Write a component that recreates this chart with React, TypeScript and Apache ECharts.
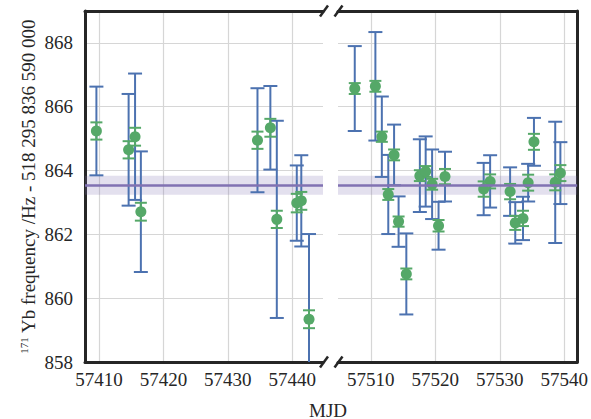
import React, { useEffect, useRef } from "react";
import * as echarts from "echarts";

// MJD of each measurement
const mjd = [
  57409.6, 57414.6, 57415.6, 57416.5, 57434.6, 57436.6, 57437.6, 57440.7, 57441.4, 57442.6,
  57507.5, 57510.7, 57511.7, 57512.7, 57513.6, 57514.3, 57515.5, 57517.6, 57518.5, 57519.5,
  57520.5, 57521.5, 57527.5, 57528.5, 57531.6, 57532.4, 57533.6, 57534.4, 57535.3, 57538.6,
  57539.4,
];
// frequency offset (Hz)
const freq = [
  865.24, 864.65, 865.06, 862.71, 864.95, 865.34, 862.47, 862.98, 863.05, 859.34,
  866.57, 866.64, 865.06, 863.25, 864.49, 862.4, 860.76, 863.84, 863.97, 863.57,
  862.27, 863.81, 863.42, 863.66, 863.34, 862.36, 862.5, 863.62, 864.9, 863.63,
  863.92,
];
// statistical (inner, green) uncertainty
const statErr = [
  0.27, 0.27, 0.28, 0.28, 0.27, 0.28, 0.27, 0.29, 0.28, 0.28,
  0.17, 0.17, 0.16, 0.17, 0.17, 0.16, 0.17, 0.17, 0.17, 0.17,
  0.18, 0.24, 0.24, 0.22, 0.24, 0.22, 0.24, 0.25, 0.25, 0.25,
  0.25,
];
// total (outer, blue) uncertainty
const totalErr = [
  1.39, 1.75, 1.98, 1.89, 1.63, 1.31, 3.09, 1.18, 1.43, 2.67,
  1.33, 1.7, 1.26, 1.24, 0.95, 0.79, 1.27, 1.14, 1.1, 1.09,
  0.75, 0.78, 0.82, 0.82, 0.76, 0.65, 0.68, 0.59, 0.75, 1.9,
  0.97,
];

const leftRange = [57407.83, 57444.77];
const rightRange = [57504.9, 57542.0];
const yRange = [858, 869];
const meanFreq = 863.55;
const meanBand = [863.24, 863.84];

const BLUE = "#4c72b0";
const GREEN = "#55a868";
const PURPLE = "#8172b2";
const FRAME = "#262626";
const FONT = "'Liberation Serif', 'Times New Roman', serif";

function errorBarRender(color: string, capW: number, lw: number) {
  return (params: any, api: any) => {
    const x = api.value(0);
    const y = api.value(1);
    const e = api.value(2);
    const top = api.coord([x, y + e]);
    const bot = api.coord([x, y - e]);
    const hw = capW / 2;
    const style = { stroke: color, lineWidth: lw };
    return {
      type: "group",
      children: [
        { type: "line", shape: { x1: top[0], y1: top[1], x2: bot[0], y2: bot[1] }, style },
        { type: "line", shape: { x1: top[0] - hw, y1: top[1], x2: top[0] + hw, y2: top[1] }, style },
        { type: "line", shape: { x1: bot[0] - hw, y1: bot[1], x2: bot[0] + hw, y2: bot[1] }, style },
      ],
    };
  };
}

export default function App() {
  const ref = useRef<HTMLDivElement>(null);
  useEffect(() => {
    if (!ref.current) return;
    const chart = echarts.init(ref.current, null, { renderer: "svg" });
    const panels = [leftRange, rightRange];
    const series: any[] = [];
    panels.forEach((range, p) => {
      const idx = mjd.map((_, i) => i).filter((i) => mjd[i] >= range[0] && mjd[i] <= range[1]);
      series.push({
        type: "line",
        xAxisIndex: p,
        yAxisIndex: p,
        data: [],
        z: 1,
        silent: true,
        markArea: {
          silent: true,
          itemStyle: { color: "rgba(129,114,178,0.22)" },
          data: [[{ yAxis: meanBand[0] }, { yAxis: meanBand[1] }]],
        },
        markLine: {
          silent: true,
          symbol: "none",
          label: { show: false },
          lineStyle: { color: PURPLE, width: 2.5, type: "solid" },
          data: [{ yAxis: meanFreq }],
        },
      });
      series.push({
        type: "custom",
        xAxisIndex: p,
        yAxisIndex: p,
        clip: true,
        z: 2,
        encode: { x: 0, y: 1 },
        data: idx.map((i) => [mjd[i], freq[i], totalErr[i]]),
        renderItem: errorBarRender(BLUE, 14, 2),
      });
      series.push({
        type: "custom",
        xAxisIndex: p,
        yAxisIndex: p,
        clip: true,
        z: 3,
        encode: { x: 0, y: 1 },
        data: idx.map((i) => [mjd[i], freq[i], statErr[i]]),
        renderItem: errorBarRender(GREEN, 12, 2),
      });
      series.push({
        type: "scatter",
        xAxisIndex: p,
        yAxisIndex: p,
        z: 4,
        symbolSize: 11,
        itemStyle: { color: GREEN, opacity: 1 },
        data: idx.map((i) => [mjd[i], freq[i]]),
      });
    });

    const frameLine = { show: true, lineStyle: { color: FRAME, width: 3 } };
    const splitLine = { show: true, lineStyle: { color: "#d6d6d6", width: 1.2 } };
    const labelStyle = { fontFamily: FONT, fontSize: 19, color: "#262626" };
    const xFmt = (v: number) => (Math.abs(v - Math.round(v / 10) * 10) < 1e-6 ? String(v) : "");

    const slash = (cx: number, cy: number) => ({
      type: "line",
      shape: { x1: cx - 4, y1: cy + 5.5, x2: cx + 4, y2: cy - 5.5 },
      style: { stroke: FRAME, lineWidth: 2.5 },
      z: 100,
    });

    chart.setOption({
      animation: false,
      textStyle: { fontFamily: FONT },
      grid: [
        { left: 85, top: 11, width: 238, height: 351 },
        { left: 338, top: 11, width: 240, height: 351 },
      ],
      xAxis: [
        {
          type: "value",
          gridIndex: 0,
          min: leftRange[0],
          max: leftRange[1],
          axisLine: frameLine,
          axisTick: { show: false },
          axisLabel: { ...labelStyle, margin: 8, showMinLabel: false, showMaxLabel: false, formatter: xFmt },
          splitLine: { ...splitLine, showMinLine: false, showMaxLine: false },
        },
        {
          type: "value",
          gridIndex: 1,
          min: rightRange[0],
          max: rightRange[1],
          axisLine: frameLine,
          axisTick: { show: false },
          axisLabel: { ...labelStyle, margin: 8, showMinLabel: false, showMaxLabel: false, formatter: xFmt },
          splitLine: { ...splitLine, showMinLine: false, showMaxLine: false },
        },
        {
          type: "value",
          gridIndex: 0,
          position: "top",
          min: leftRange[0],
          max: leftRange[1],
          axisLine: frameLine,
          axisTick: { show: false },
          axisLabel: { show: false },
          splitLine: { show: false },
        },
        {
          type: "value",
          gridIndex: 1,
          position: "top",
          min: rightRange[0],
          max: rightRange[1],
          axisLine: frameLine,
          axisTick: { show: false },
          axisLabel: { show: false },
          splitLine: { show: false },
        },
      ],
      yAxis: [
        {
          type: "value",
          gridIndex: 0,
          position: "left",
          min: yRange[0],
          max: yRange[1],
          interval: 2,
          axisLine: frameLine,
          axisTick: { show: false },
          axisLabel: { ...labelStyle, margin: 12, showMaxLabel: false },
          splitLine: { ...splitLine },
          name: "{sup|171}{main| Yb frequency /Hz - 518 295 836 590 000}",
          nameLocation: "middle",
          nameGap: 47,
          nameMoveOverlap: false,
          nameRotate: 90,
          nameTextStyle: {
            fontFamily: FONT,
            fontSize: 19,
            color: "#262626",
            rich: {
              sup: { fontFamily: FONT, fontSize: 11, color: "#262626", verticalAlign: "top", lineHeight: 20 },
              main: { fontFamily: FONT, fontSize: 19, color: "#262626", lineHeight: 20 },
            },
          },
        },
        {
          type: "value",
          gridIndex: 1,
          position: "right",
          min: yRange[0],
          max: yRange[1],
          interval: 2,
          axisLine: frameLine,
          axisTick: { show: false },
          axisLabel: { show: false },
          splitLine: { ...splitLine },
        },
      ],
      graphic: [
        slash(324, 11),
        slash(338.5, 11),
        slash(324, 362),
        slash(338.5, 362),
        {
          type: "text",
          x: 328,
          y: 410,
          style: {
            text: "MJD",
            fontFamily: FONT,
            fontSize: 19,
            fill: "#262626",
            textAlign: "center",
            textVerticalAlign: "middle",
          },
        },
      ],
      series,
    });
    return () => chart.dispose();
  }, []);
  return (
    <div
      ref={ref}
      style={{ position: "fixed", left: 0, top: 0, width: 591, height: 419, background: "#fff" }}
    />
  );
}
